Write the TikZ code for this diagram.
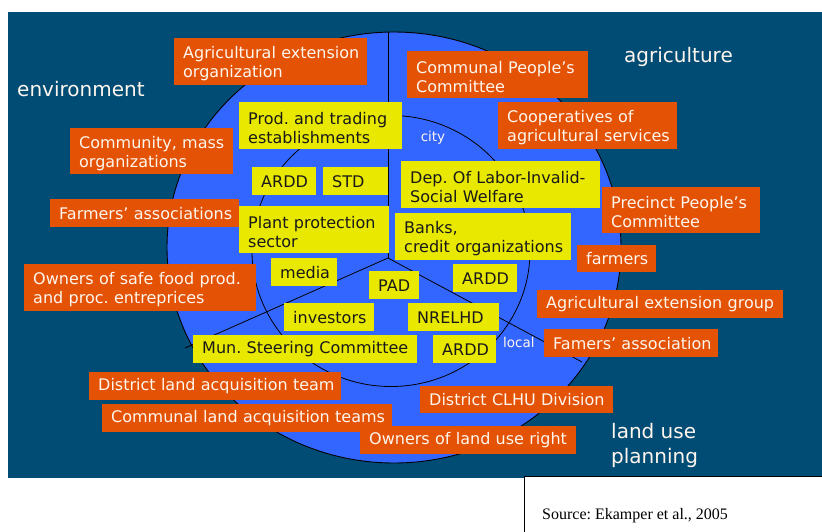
\documentclass[tikz,border=0pt]{standalone}
\usepackage{fontspec}
\setmainfont{DejaVu Sans}
\newfontfamily\srcfont{Liberation Serif}
\definecolor{bgteal}{RGB}{0,76,117}
\definecolor{circblue}{RGB}{51,102,255}
\definecolor{orangebox}{RGB}{227,82,5}
\definecolor{yellowbox}{RGB}{232,232,0}
\definecolor{lighttext}{RGB}{255,246,238}
\frenchspacing
\begin{document}
\begin{tikzpicture}[x=1pt,y=-1pt,
  box/.style={anchor=north west, inner xsep=9pt, inner ysep=0pt, align=left,
    font=\fontsize{16}{19.3}\selectfont},
  twoline/.style={execute at begin node={\rule{0pt}{16.5pt}}},
  obox/.style={box, fill=orangebox, text=lighttext},
  ybox/.style={box, fill=yellowbox, text=black!90},
  arealabel/.style={text=lighttext, inner sep=0pt, align=left,
    font=\fontsize{20}{25}\selectfont},
  ringlabel/.style={text=lighttext, inner sep=0pt, font=\fontsize{13.5}{16}\selectfont},
  divider/.style={draw=black, line width=0.8pt}]
\useasboundingbox (0,0) rectangle (822,531);

% backdrop and the two rings
\fill[bgteal] (8,12) rectangle (822,478);
\draw[fill=circblue, line width=0.9pt] (394,247.5) ellipse [x radius=227, y radius=215.5];
\draw[line width=0.8pt] (391,251) ellipse [x radius=139, y radius=135.5];

% three sectors
\coordinate (hub) at (388,258);
\coordinate (topend) at (388,32);
\coordinate (leftend) at (185,348);
\coordinate (rightend) at (582,362);
\draw[divider] (hub) -- (topend);
\draw[divider] (hub) -- (leftend);
\draw[divider] (hub) -- (rightend);

% sector titles
\node[arealabel, anchor=base west] (env) at (17,96) {environment};
\node[arealabel, anchor=base west] (agri) at (624,62) {agriculture};
\node[arealabel, anchor=west] (landuse) at (611,445) {land use\\planning};
\node[ringlabel] (city) at (433,137.5) {city};
\node[ringlabel, anchor=west] (local) at (503,342) {local};

% outer ring actors
\node[obox, twoline, text width=175pt, minimum height=47pt] (agextorg) at (174,38) {\mbox{Agricultural extension}\\\mbox{organization}};
\node[obox, twoline, text width=163pt, minimum height=47pt] (communalpc) at (407,51) {\mbox{Communal People’s}\\\mbox{Committee}};
\node[obox, twoline, text width=161pt, minimum height=47pt] (coops) at (498,102) {\mbox{Cooperatives of}\\\mbox{agricultural services}};
\node[obox, twoline, text width=145pt, minimum height=46pt] (community) at (70,128) {\mbox{Community, mass}\\\mbox{organizations}};
\node[obox, twoline, text width=140pt, minimum height=46pt] (precinct) at (602,187) {\mbox{Precinct People’s}\\\mbox{Committee}};
\node[obox, text width=171pt, minimum height=28pt] (farmassoc) at (50,199) {\mbox{Farmers’ associations}};
\node[obox, text width=61pt, minimum height=27pt] (farmers) at (577,245) {\mbox{farmers}};
\node[obox, twoline, text width=214pt, minimum height=47pt] (safefood) at (24,264) {\mbox{Owners of safe food prod.}\\\mbox{and proc. entreprices}};
\node[obox, text width=228pt, minimum height=28pt] (agextgroup) at (537,290) {\mbox{Agricultural extension group}};
\node[obox, text width=156pt, minimum height=28pt] (famassoc) at (544,329) {\mbox{Famers’ association}};
\node[obox, text width=234pt, minimum height=28pt] (distland) at (89,372) {\mbox{District land acquisition team}};
\node[obox, text width=175pt, minimum height=27pt] (clhu) at (420,386) {\mbox{District CLHU Division}};
\node[obox, text width=272pt, minimum height=28pt] (commland) at (102,404) {\mbox{Communal land acquisition teams}};
\node[obox, text width=198pt, minimum height=28pt] (landowners) at (360,426) {\mbox{Owners of land use right}};

% inner ring actors
\node[ybox, twoline, text width=145pt, minimum height=47pt] (prod) at (239,102) {\mbox{Prod. and trading}\\\mbox{establishments}};
\node[ybox, twoline, text width=181pt, minimum height=47pt] (dep) at (401,161) {\mbox{Dep. Of Labor-Invalid-}\\\mbox{Social Welfare}};
\node[ybox, text width=46pt, minimum height=28pt] (ardda) at (252,167) {\mbox{ARDD}};
\node[ybox, text width=47pt, minimum height=28pt] (std) at (323,167) {\mbox{STD}};
\node[ybox, twoline, text width=132pt, minimum height=47pt] (plant) at (239,206) {\mbox{Plant protection}\\\mbox{sector}};
\node[ybox, twoline, text width=158pt, minimum height=47pt] (banks) at (395,213) {\mbox{Banks,}\\\mbox{credit organizations}};
\node[ybox, text width=48pt, minimum height=28pt] (media) at (271,258) {\mbox{media}};
\node[ybox, text width=46pt, minimum height=28pt] (arddb) at (453,264) {\mbox{ARDD}};
\node[ybox, text width=32pt, minimum height=28pt] (pad) at (369,271) {\mbox{PAD}};
\node[ybox, text width=72pt, minimum height=28pt] (investors) at (284,303) {\mbox{investors}};
\node[ybox, text width=73pt, minimum height=28pt] (nrelhd) at (408,303) {\mbox{NRELHD}};
\node[ybox, text width=206pt, minimum height=28pt] (mun) at (193,335) {\mbox{Mun. Steering Committee}};
\node[ybox, text width=45pt, minimum height=28pt] (arddc) at (433,335) {\mbox{ARDD}};

% source note
\draw[fill=white, line width=0.9pt] (524,476) rectangle (840,550);
\node[anchor=base west, inner sep=0pt, font=\srcfont\fontsize{16}{19}\selectfont] (source) at (542,519) {Source: Ekamper et al., 2005};
\end{tikzpicture}
\end{document}
